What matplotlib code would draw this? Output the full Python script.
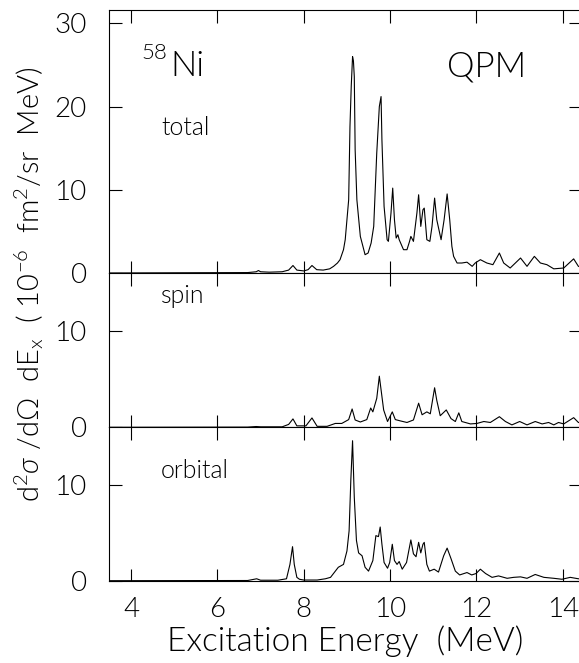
import matplotlib
matplotlib.use("Agg")
import matplotlib.pyplot as plt

plt.rcParams['font.family'] = ['Lato', 'DejaVu Sans']
plt.rcParams['font.weight'] = 300
plt.rcParams['axes.labelweight'] = 300
plt.rcParams['mathtext.fontset'] = 'custom'
plt.rcParams['mathtext.rm'] = 'Lato'
plt.rcParams['mathtext.it'] = 'Lato:italic'
plt.rcParams['mathtext.fallback'] = 'stixsans'

# excitation energy (MeV) and cross sections (1e-6 fm^2/sr MeV)
e_total = [3.49, 6.7, 6.9, 6.95, 7.0, 7.2, 7.5, 7.65, 7.75, 7.84, 8.0, 8.1, 8.19, 8.3,
           8.45, 8.6, 8.69, 8.78, 8.84, 8.92, 8.96, 9.04, 9.07, 9.10, 9.13, 9.15, 9.17,
           9.19, 9.23, 9.31, 9.42, 9.49, 9.56, 9.62, 9.69, 9.75, 9.79, 9.81, 9.86, 9.93,
           9.96, 10.02, 10.06, 10.1, 10.14, 10.18, 10.21, 10.31, 10.39, 10.45, 10.48,
           10.54, 10.62, 10.66, 10.71, 10.76, 10.79, 10.85, 10.92, 10.97, 11.03, 11.08,
           11.18, 11.25, 11.32, 11.38, 11.43, 11.47, 11.55, 11.66, 11.78, 11.9, 11.97,
           12.09, 12.24, 12.38, 12.53, 12.63, 12.78, 13.02, 13.17, 13.34, 13.48, 13.63,
           13.79, 14.02, 14.25, 14.36, 14.42]
total = [0, 0.05, 0.15, 0.3, 0.15, 0.1, 0.15, 0.35, 0.9, 0.35, 0.25, 0.4, 0.9, 0.4,
         0.35, 0.5, 0.8, 1.2, 1.6, 2.8, 4.0, 8.8, 17.6, 22.5, 26.0, 25.5, 23.6,
         14.8, 8.8, 4.4, 2.2, 2.4, 3.6, 5.6, 14.4, 20.0, 21.2, 16.0, 8.0, 4.0,
         3.8, 7.2, 10.2, 6.4, 4.2, 4.6, 4.0, 2.8, 2.8, 3.8, 4.4,
         3.8, 7.2, 9.4, 5.6, 7.6, 7.8, 4.0, 3.8, 5.6, 9.0, 6.4,
         4.0, 6.4, 9.5, 6.4, 3.2, 2.0, 1.2, 1.2, 1.3, 0.8, 1.2,
         1.6, 1.2, 1.0, 2.4, 1.2, 0.6, 1.8, 0.8, 2.0, 1.2, 1.0,
         0.5, 0.6, 1.7, 0.8, 0.7]

e_spin = [3.49, 6.7, 6.9, 7.0, 7.5, 7.65, 7.75, 7.84, 8.05, 8.19, 8.31, 8.54, 8.73,
          8.88, 9.04, 9.12, 9.19, 9.31, 9.46, 9.55, 9.6, 9.69, 9.75, 9.79, 9.85, 9.94,
          10.05, 10.12, 10.24, 10.39, 10.54, 10.66, 10.74, 10.85, 10.93, 11.03, 11.08,
          11.16, 11.3, 11.41, 11.51, 11.59, 11.66, 11.86, 12.01, 12.17, 12.32, 12.53,
          12.67, 12.82, 13.0, 13.17, 13.36, 13.52, 13.67, 13.79, 13.9, 14.02, 14.25,
          14.36, 14.42]
spin = [0, 0.02, 0.08, 0.05, 0.05, 0.3, 0.87, 0.15, 0.15, 0.97, 0.1, 0.1, 0.4,
        0.4, 0.8, 1.9, 0.76, 0.55, 0.8, 2.0, 1.6, 3.0, 5.3, 3.9, 1.8, 0.6,
        1.6, 0.8, 0.66, 0.5, 0.76, 2.5, 1.3, 1.6, 1.4, 4.1, 2.8,
        1.2, 1.8, 0.9, 0.6, 1.5, 0.6, 0.35, 0.4, 0.6, 0.5, 1.1,
        0.6, 0.25, 0.6, 0.25, 0.6, 0.35, 0.5, 0.25, 0.5, 0.35, 1.0,
        0.5, 0.45]

e_orb = [3.49, 6.7, 6.91, 7.0, 7.4, 7.6, 7.68, 7.74, 7.78, 7.84, 7.9, 8.0, 8.31, 8.5,
         8.62, 8.8, 8.92, 9.0, 9.05, 9.09, 9.13, 9.17, 9.22, 9.27, 9.35, 9.42, 9.5,
         9.6, 9.67, 9.73, 9.77, 9.81, 9.86, 9.94, 9.99, 10.05, 10.1, 10.16, 10.21,
         10.28, 10.38, 10.48, 10.54, 10.6, 10.66, 10.71, 10.76, 10.79, 10.85, 10.91,
         11.02, 11.12, 11.24, 11.32, 11.41, 11.51, 11.61, 11.78, 11.89, 11.99, 12.09,
         12.21, 12.36, 12.51, 12.71, 12.86, 13.02, 13.17, 13.36, 13.56, 13.79, 13.98,
         14.17, 14.36, 14.42]
orbital = [0, 0.02, 0.2, 0.05, 0.05, 0.2, 1.7, 3.55, 1.7, 0.35, 0.15, 0.07, 0.07, 0.2,
           0.35, 1.4, 1.7, 3.1, 5.2, 10.5, 14.6, 8.7, 4.2, 2.9, 2.6, 1.4, 1.0,
           2.1, 4.7, 4.6, 5.6, 3.8, 1.9, 1.3, 1.9, 3.8, 2.1, 1.7, 2.0,
           1.2, 1.9, 4.25, 2.8, 2.5, 4.0, 2.9, 3.8, 4.0, 1.7, 1.0,
           1.2, 0.9, 2.6, 3.4, 2.3, 1.0, 0.6, 0.85, 0.6, 0.75, 1.2,
           0.75, 0.35, 0.5, 0.25, 0.35, 0.4, 0.25, 0.65, 0.35, 0.25, 0.15,
           0.35, 0.2, 0.2]

panel_names = ["total", "spin", "orbital"]
panel_ylims = [31.6, 16.0, 16.0]
panel_yticks = [[0, 10, 20, 30], [0, 10], [0, 10]]
xticks = [4, 6, 8, 10, 12, 14]

W, H = 579, 663
fig = plt.figure(figsize=(W / 100, H / 100), dpi=100)

left = 109 / W
width = (581 - 109) / W
edges = [10, 273, 427.3, 580.7]  # pixel rows of panel borders

series = [(e_total, total), (e_spin, spin), (e_orb, orbital)]
label_pos = [0.525, 0.806, 0.670]

axes = []
for i in range(3):
    top, bot = edges[i], edges[i + 1]
    ax = fig.add_axes([left, 1 - bot / H, width, (bot - top) / H])
    x, y = series[i]
    ax.plot(x, y, color='black', lw=0.8)
    ax.set_xlim(3.49, 14.42)
    ax.set_ylim(0, panel_ylims[i])
    ax.set_xticks(xticks)
    ax.set_yticks(panel_yticks[i])
    ax.tick_params(direction='in', top=True, right=True, length=9, width=0.8,
                   labelsize=20, pad=12, colors='black')
    ax.tick_params(axis='y', pad=16)
    if i < 2:
        ax.tick_params(labelbottom=False)
    for s in ax.spines.values():
        s.set_linewidth(0.8)
    ax.text(0.110, label_pos[i], panel_names[i], transform=ax.transAxes,
            fontsize=18, va='baseline', ha='left')
    axes.append(ax)

axes[0].text(0.068, 0.875, "58", transform=axes[0].transAxes, fontsize=16,
             va='top', ha='left')
axes[0].text(0.129, 0.749, "Ni", transform=axes[0].transAxes, fontsize=25,
             va='baseline', ha='left')
axes[0].text(0.716, 0.749, "QPM", transform=axes[0].transAxes, fontsize=25,
             va='baseline', ha='left')

axes[2].set_xlabel("Excitation Energy  (MeV)", fontsize=24, labelpad=2)

fig.text(0.05, 1 - 284 / H,
         r"d$^2\sigma$ /d$\Omega$  dE$_{\rm x}$  ( 10$^{-6}$  fm$^2$/sr  MeV)",
         rotation=90, fontsize=21, va='center', ha='center')

fig.savefig("out.png", dpi=100)
